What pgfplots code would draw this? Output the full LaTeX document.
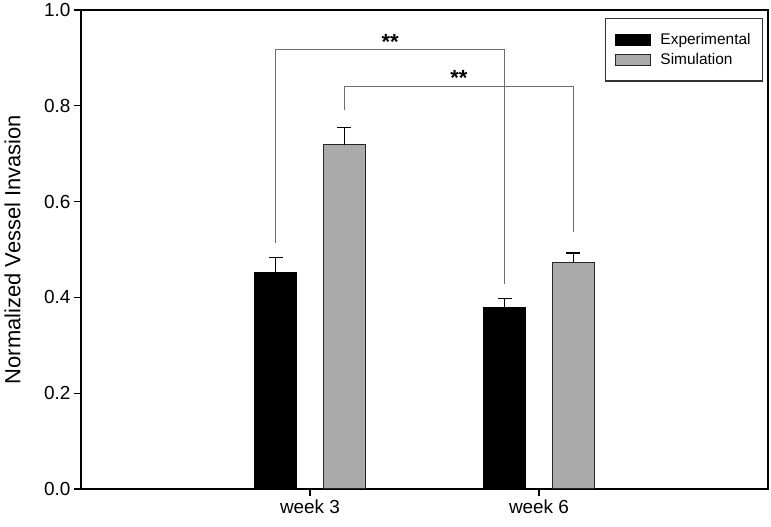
\documentclass[border=0pt]{standalone}
\usepackage{fontspec}
\setmainfont{Liberation Sans}
\usepackage{pgfplots}
\pgfplotsset{compat=1.18}
\definecolor{simgray}{HTML}{AAAAAA}
\definecolor{brgray}{HTML}{6E6E6E}
\begin{document}
\begin{tikzpicture}
\path[use as bounding box] (-81bp,-38bp) rectangle (690bp,489bp);
\begin{axis}[
  at={(0,0)}, anchor=south west,
  scale only axis, width=687bp, height=479bp,
  xmin=0, xmax=3, ymin=0, ymax=1,
  xtick={1,2}, xticklabels={week 3, week 6},
  ytick={0,0.2,0.4,0.6,0.8,1.0},
  xtick pos=bottom, ytick pos=left,
  tick align=outside,
  major tick length=7bp,
  axis line style={line width=1.3bp},
  every tick/.style={black, line width=1.3bp},
  /pgf/number format/assume math mode=true,
  yticklabel style={/pgf/number format/.cd, fixed, fixed zerofill, precision=1},
  ticklabel style={font=\fontsize{19}{22}\selectfont},
  ylabel={Normalized Vessel Invasion},
  ylabel style={font=\fontsize{22}{26}\selectfont, at={(rel axis cs:0,0.5)}, anchor=south, yshift=57bp},
  legend style={at={(rel axis cs:0.993,0.983)}, anchor=north east,
    draw=black!80, line width=1.2bp, font=\fontsize{15.5}{17}\selectfont,
    inner xsep=10bp, inner ysep=13bp, row sep=3bp, cells={anchor=west}},
  legend cell align=left,
]
\addplot[ybar, bar width=0.183, bar shift=0, fill=black, draw=black, line width=1.2bp,
  legend image code/.code={\draw[fill=black, draw=black, line width=1bp, solid] (0bp,-5.5bp) rectangle (35bp,5.5bp); \path (42bp,0bp);},
  error bars/.cd, y dir=plus, y explicit,
  error bar style={line width=1.3bp, black, solid},
  error mark options={rotate=90, mark size=7bp, line width=1.3bp, black, solid}]
  coordinates {(0.85,0.451) +- (0,0.032) (1.85,0.379) +- (0,0.019)};
\addplot[ybar, bar width=0.183, bar shift=0, fill=simgray, draw=black!85, line width=1.2bp,
  legend image code/.code={\draw[fill=simgray, draw=black!85, line width=1bp, solid] (0bp,-5.5bp) rectangle (35bp,5.5bp); \path (42bp,0bp);},
  error bars/.cd, y dir=plus, y explicit,
  error bar style={line width=1.3bp, black, solid},
  error mark options={rotate=90, mark size=7bp, line width=1.3bp, black, solid}]
  coordinates {(1.15,0.719) +- (0,0.035) (2.15,0.473) +- (0,0.020)};
\addplot[sharp plot, brgray, line width=1bp, mark=none, forget plot]
  coordinates {(0.85,0.513) (0.85,0.917) (1.85,0.917) (1.85,0.427)};
\addplot[sharp plot, brgray, line width=1bp, mark=none, forget plot]
  coordinates {(1.15,0.791) (1.15,0.841) (2.15,0.841) (2.15,0.536)};
\node[font=\bfseries\fontsize{22}{24}\selectfont, anchor=south, inner sep=1bp] at (axis cs:1.35,0.915) {**};
\node[font=\bfseries\fontsize{22}{24}\selectfont, anchor=south, inner sep=1bp] at (axis cs:1.65,0.839) {**};
\legend{Experimental\hspace{6bp}, Simulation}
\end{axis}
\end{tikzpicture}
\end{document}
